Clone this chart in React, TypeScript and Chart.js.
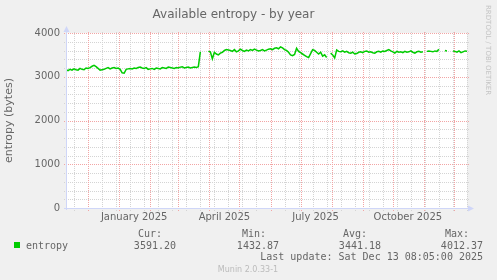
import { useEffect, useRef } from "react";
import { Chart, registerables } from "chart.js";

Chart.register(...registerables);

// Day 0 = 1 Dec 2024. The graph spans 400 days (9 Nov 2024 .. 14 Dec 2025), one value every 2 days.
const START_DAY = -22;
const END_DAY = 378;
const STEP_DAYS = 2;

const entropy: (number | null)[] = [
  // days -22..0
  3160, 3140, 3170, 3150, 3180, 3160, 3150, 3190, 3170, 3160, 3200, 3190,
  // days 2..14
  3210, 3240, 3260, 3230, 3190, 3150, 3160,
  // days 16..30
  3170, 3190, 3210, 3180, 3200, 3210, 3190, 3200,
  // days 32..40
  3170, 3090, 3080, 3170, 3180,
  // days 42..60
  3190, 3180, 3200, 3190, 3210, 3220, 3200, 3190, 3210, 3170,
  // days 62..110
  3180, 3190, 3170, 3200, 3190, 3180, 3210, 3200, 3190, 3220, 3210, 3200, 3190,
  3210, 3200, 3220, 3230, 3200, 3210, 3220, 3200, 3210, 3220, 3210, 3230,
  // day 112
  3570,
  // days 114..118
  null, null, null,
  // days 120..140
  3580, 3570, 3410, 3560, 3520, 3500, 3540, 3560, 3600, 3620, 3610,
  // days 142..170
  3600, 3580, 3620, 3570, 3590, 3630, 3600, 3580, 3610, 3590, 3620, 3600, 3630, 3610, 3590,
  // days 172..192
  3600, 3620, 3590, 3610, 3630, 3640, 3620, 3650, 3660, 3640, 3680,
  // days 194..208
  3660, 3620, 3600, 3560, 3500, 3480, 3510, 3650,
  // days 210..224
  3580, 3550, 3520, 3490, 3460, 3440, 3530, 3620,
  // days 226..238
  3600, 3560, 3520, 3560, 3470, 3500, 3440,
  // day 240
  null,
  // days 242..250
  3540, 3500, 3430, 3610, 3580,
  // days 252..334
  3570, 3590, 3560, 3580, 3550, 3540, 3560, 3520, 3530, 3560,
  3570, 3550, 3580, 3590, 3560, 3570, 3550, 3540, 3570, 3580,
  3560, 3590, 3580, 3600, 3620, 3590, 3570, 3540, 3580, 3560,
  3570, 3550, 3580, 3560, 3570, 3590, 3560, 3540, 3570, 3580,
  3560, 3570,
  // day 336
  null,
  // days 338..350
  3580, 3590, 3580, 3570, 3590, 3580, 3630,
  // days 352..354
  null, null,
  // days 356..358
  3600, 3590,
  // days 360..362
  null, null,
  // days 364..378
  3590, 3580, 3560, 3590, 3550, 3570, 3590, 3580,
];

const monthStartDays = [0, 31, 62, 90, 121, 151, 182, 212, 243, 274, 304, 335, 365];
const xLabelDays = [46, 136, 227, 319];
const xLabels = ["January 2025", "April 2025", "July 2025", "October 2025"];
const FIRST_MINOR_DAY = -14;
const MINOR_DAYS_STEP = 14;

const Y_MAX = 4000;
const Y_STEP = 1000;
const Y_MINOR = 200;

const seriesName = "entropy";
const statHeaders = ["Cur:", "Min:", "Avg:", "Max:"];
const statValues = ["3591.20", "1432.87", "3441.18", "4012.37"];
const lastUpdate = "Last update: Sat Dec 13 08:05:00 2025";
const footer = "Munin 2.0.33-1";
const sideText = "RRDTOOL / TOBI OETIKER";

const LINE_COLOR = "#00cc00";
const TEXT_COLOR = "#666666";
const GRID_COLOR = "rgb(212,212,212)";
const MGRID_COLOR = "rgb(242,165,165)";
const AXIS_COLOR = "#cfd6f8";

const muninPlugin = {
  id: "munin",
  beforeDraw(chart: any) {
    const { ctx, chartArea: a } = chart;
    ctx.save();
    ctx.fillStyle = "#f0f0f0";
    ctx.fillRect(0, 0, chart.width, chart.height);
    ctx.fillStyle = "#ffffff";
    ctx.fillRect(a.left, a.top, a.right - a.left, a.bottom - a.top);
    ctx.restore();
  },
  beforeDatasetsDraw(chart: any) {
    const { ctx, chartArea: a } = chart;
    const xs = chart.scales.x;
    const ys = chart.scales.y;
    const left = Math.round(a.left);
    const right = Math.round(a.right);
    const top = Math.round(a.top);
    const bottom = Math.round(a.bottom);
    const hline = (v: number) => {
      const py = Math.round(ys.getPixelForValue(v));
      for (let px = left - 2; px <= right + 1; px += 2) ctx.fillRect(px, py, 1, 1);
    };
    const vline = (d: number) => {
      const px = Math.round(xs.getPixelForValue(d));
      for (let py = bottom + 2; py >= top - 2; py -= 2) ctx.fillRect(px, py, 1, 1);
    };
    ctx.save();
    ctx.fillStyle = GRID_COLOR;
    for (let v = Y_MINOR; v < Y_MAX; v += Y_MINOR) if (v % Y_STEP !== 0) hline(v);
    for (let d = FIRST_MINOR_DAY; d <= END_DAY; d += MINOR_DAYS_STEP) vline(d);
    ctx.fillStyle = MGRID_COLOR;
    for (let v = 0; v <= Y_MAX; v += Y_STEP) hline(v);
    monthStartDays.forEach((d) => vline(d));
    ctx.restore();
  },
  afterDraw(chart: any) {
    const { ctx, chartArea: a } = chart;
    ctx.save();
    // axes
    ctx.strokeStyle = AXIS_COLOR;
    ctx.fillStyle = AXIS_COLOR;
    ctx.lineWidth = 1;
    const ax = Math.round(a.left) + 0.5;
    const ay = Math.round(a.bottom) + 0.5;
    ctx.beginPath();
    ctx.moveTo(a.left - 2, ay);
    ctx.lineTo(a.right + 2, ay);
    ctx.moveTo(ax, a.bottom + 2);
    ctx.lineTo(ax, a.top - 2);
    ctx.stroke();
    ctx.beginPath();
    ctx.moveTo(ax, a.top - 7);
    ctx.lineTo(ax - 3, a.top - 1);
    ctx.lineTo(ax + 3, a.top - 1);
    ctx.closePath();
    ctx.fill();
    ctx.beginPath();
    ctx.moveTo(a.right + 7, ay);
    ctx.lineTo(a.right + 1, ay - 3);
    ctx.lineTo(a.right + 1, ay + 3);
    ctx.closePath();
    ctx.fill();

    // legend table
    ctx.fillStyle = TEXT_COLOR;
    ctx.font = "10px 'DejaVu Sans Mono', monospace";
    ctx.textBaseline = "middle";
    ctx.textAlign = "right";
    const headerRight = [162, 266, 367, 469];
    const valueRight = [176, 279, 381, 483];
    statHeaders.forEach((h, i) => ctx.fillText(h, headerRight[i], 234.5));
    statValues.forEach((v, i) => ctx.fillText(v, valueRight[i], 246));
    ctx.fillText(lastUpdate, 483, 257.5);
    ctx.textAlign = "left";
    ctx.fillText(seriesName, 26, 246);
    ctx.fillStyle = LINE_COLOR;
    ctx.fillRect(14, 242, 6, 6);

    // footer
    ctx.fillStyle = "#bbbbbb";
    ctx.font = "8px 'DejaVu Sans', sans-serif";
    ctx.textAlign = "center";
    ctx.fillText(footer, 248, 269.5);

    // side watermark
    ctx.fillStyle = "#c4c4c4";
    ctx.font = "7px 'DejaVu Sans', sans-serif";
    ctx.textAlign = "left";
    ctx.translate(488, 5);
    ctx.rotate(Math.PI / 2);
    ctx.fillText(sideText, 0, 0);
    ctx.restore();
  },
};

export default function App() {
  const canvasRef = useRef<HTMLCanvasElement | null>(null);

  useEffect(() => {
    if (!canvasRef.current) return;
    const points = entropy.map((v, i) => ({ x: START_DAY + i * STEP_DAYS, y: v }));
    const chart = new Chart(canvasRef.current, {
      type: "line",
      data: {
        datasets: [
          {
            label: seriesName,
            data: points as any,
            borderColor: LINE_COLOR,
            borderWidth: 1.5,
            pointRadius: 0,
            tension: 0,
            spanGaps: false,
          },
        ],
      },
      options: {
        animation: false,
        responsive: false,
        devicePixelRatio: 1,
        layout: { padding: { left: 0, right: 30, top: 0, bottom: 52 } },
        plugins: {
          legend: { display: false },
          tooltip: { enabled: false },
          title: {
            display: true,
            text: "Available entropy - by year",
            color: TEXT_COLOR,
            font: { family: "'DejaVu Sans', sans-serif", size: 12, weight: "normal" },
            padding: { top: 8, bottom: 10.6 },
          },
        },
        scales: {
          x: {
            type: "linear",
            min: START_DAY,
            max: END_DAY,
            grid: { display: false, drawTicks: false },
            border: { display: false },
            afterBuildTicks: (s: any) => {
              s.ticks = xLabelDays.map((d) => ({ value: d }));
            },
            afterFit: (s: any) => {
              s.height = 20;
            },
            ticks: {
              autoSkip: false,
              maxRotation: 0,
              padding: 3,
              color: TEXT_COLOR,
              font: { family: "'DejaVu Sans', sans-serif", size: 10 },
              callback: (_v: any, i: number) => xLabels[i],
            },
          },
          y: {
            type: "linear",
            min: 0,
            max: Y_MAX,
            grid: { display: false, drawTicks: false },
            border: { display: false },
            afterFit: (s: any) => {
              s.width = 66;
            },
            ticks: {
              stepSize: Y_STEP,
              padding: 6,
              color: TEXT_COLOR,
              font: { family: "'DejaVu Sans', sans-serif", size: 10 },
              callback: (v: any) => String(v),
            },
            title: {
              display: true,
              text: "entropy (bytes)",
              color: TEXT_COLOR,
              font: { family: "'DejaVu Sans', sans-serif", size: 11 },
              padding: { top: 3, bottom: 0 },
            },
          },
        },
      },
      plugins: [muninPlugin],
    });
    return () => chart.destroy();
  }, []);

  return (
    <div style={{ position: "fixed", left: 0, top: 0, width: 497, height: 280, background: "#f0f0f0" }}>
      <canvas ref={canvasRef} width={497} height={280} style={{ display: "block" }} />
    </div>
  );
}
